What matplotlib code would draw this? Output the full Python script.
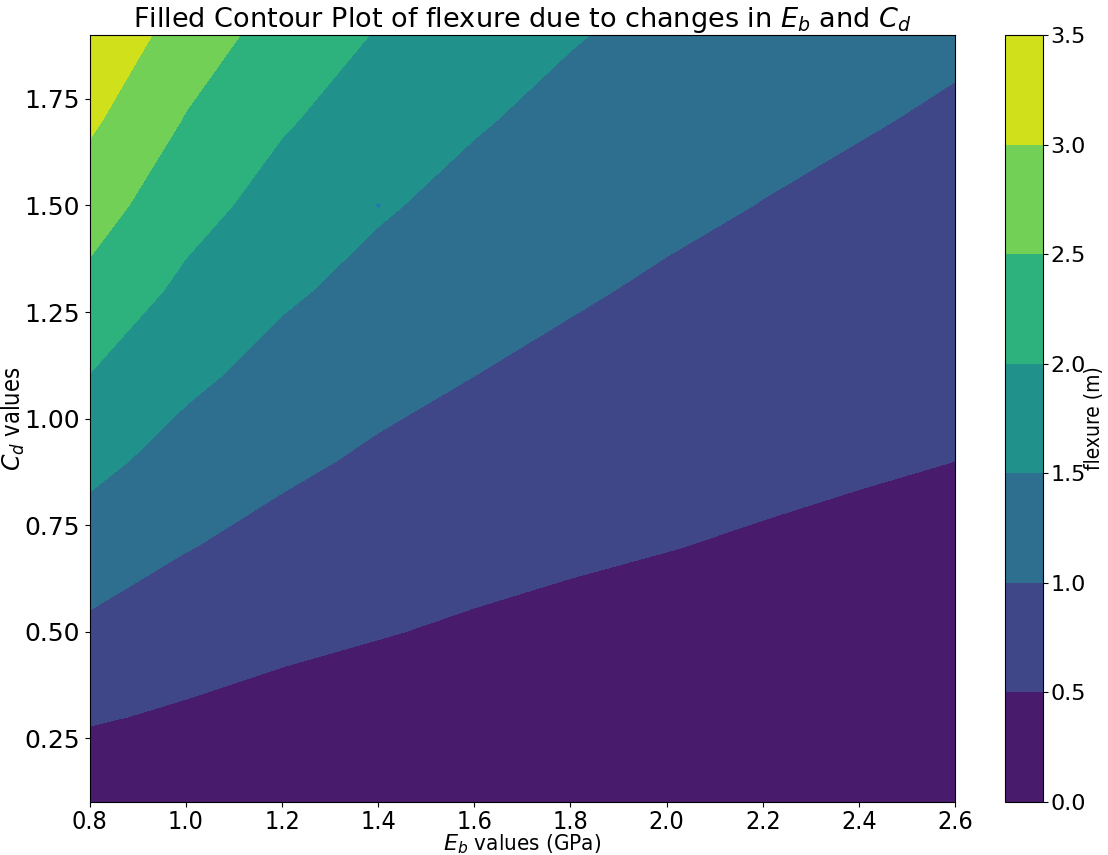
import matplotlib.pyplot as plt
import numpy as np

# Grid of beam modulus and drag coefficient
E_b = [0.8, 1.0, 1.2, 1.4, 1.6, 1.8, 2.0, 2.2, 2.4, 2.6]
C_d = [0.1, 0.3, 0.5, 0.7, 0.9, 1.1, 1.3, 1.5, 1.7, 1.9]

# flexure (m), rows follow C_d, columns follow E_b
flex_c01 = [0.18, 0.15, 0.12, 0.10, 0.09, 0.08, 0.07, 0.07, 0.06, 0.06]
flex_c03 = [0.54, 0.44, 0.36, 0.31, 0.27, 0.24, 0.22, 0.20, 0.18, 0.17]
flex_c05 = [0.91, 0.73, 0.60, 0.52, 0.45, 0.40, 0.36, 0.33, 0.30, 0.28]
flex_c07 = [1.27, 1.02, 0.85, 0.73, 0.63, 0.56, 0.51, 0.46, 0.42, 0.39]
flex_c09 = [1.63, 1.31, 1.09, 0.93, 0.82, 0.73, 0.65, 0.59, 0.54, 0.50]
flex_c11 = [1.99, 1.60, 1.33, 1.14, 1.00, 0.89, 0.80, 0.73, 0.67, 0.61]
flex_c13 = [2.36, 1.89, 1.57, 1.35, 1.18, 1.05, 0.94, 0.86, 0.79, 0.73]
flex_c15 = [2.72, 2.18, 1.81, 1.55, 1.36, 1.21, 1.09, 0.99, 0.91, 0.84]
flex_c17 = [3.08, 2.47, 2.05, 1.76, 1.54, 1.37, 1.23, 1.12, 1.03, 0.95]
flex_c19 = [3.44, 2.76, 2.30, 1.97, 1.72, 1.53, 1.38, 1.25, 1.15, 1.06]

levels = [0.0, 0.5, 1.0, 1.5, 2.0, 2.5, 3.0, 3.5]

# reference point
E_ref = [1.4]
C_ref = [1.5]

Z = np.array([flex_c01, flex_c03, flex_c05, flex_c07, flex_c09,
              flex_c11, flex_c13, flex_c15, flex_c17, flex_c19])
X, Y = np.meshgrid(E_b, C_d)

fig = plt.figure(figsize=(11.08, 8.55), dpi=100)
ax = fig.add_axes([0.081, 0.062, 0.781, 0.897])
cax = fig.add_axes([0.907, 0.062, 0.034, 0.897])

cs = ax.contourf(X, Y, Z, levels=levels, cmap='viridis')
ax.scatter(E_ref, C_ref, s=4, color='C0', zorder=3)

ax.set_xticks([0.8, 1.0, 1.2, 1.4, 1.6, 1.8, 2.0, 2.2, 2.4, 2.6])
ax.set_yticks([0.25, 0.5, 0.75, 1.0, 1.25, 1.5, 1.75])
ax.tick_params(axis='y', labelsize=18)
ax.tick_params(axis='x', labelsize=18, pad=2)
for lab in ax.get_xticklabels():
    lab.set_fontstretch('condensed')
ax.set_xlabel('$E_b$ values (GPa)', fontsize=16, labelpad=-1, fontstretch='condensed')
ax.set_ylabel('$C_d$ values', fontsize=17, labelpad=-2, fontstretch='condensed')
ax.set_title('Filled Contour Plot of flexure due to changes in $E_b$ and $C_d$', fontsize=19.5, pad=5)

cbar = fig.colorbar(cs, cax=cax)
cbar.ax.tick_params(labelsize=16, pad=2)
cbar.set_label('flexure (m)', fontsize=15, labelpad=-1, fontstretch='condensed')

fig.savefig('out.png', dpi=100)
